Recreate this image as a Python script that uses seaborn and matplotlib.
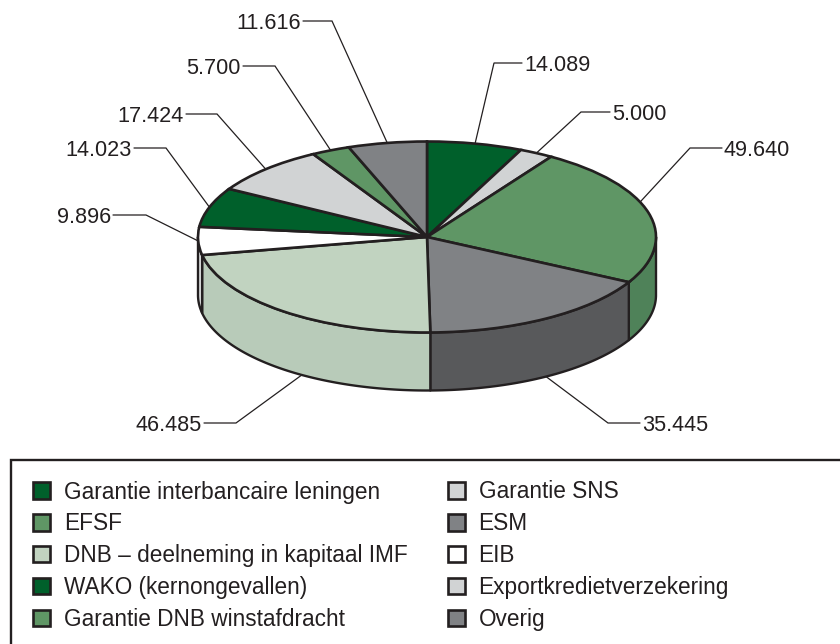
import numpy as np
import seaborn as sns
import matplotlib.pyplot as plt
from matplotlib.patches import Rectangle

# slices clockwise from the top
categories = ["Garantie interbancaire leningen", "Garantie SNS", "EFSF", "ESM",
              "DNB – deelneming in kapitaal IMF", "EIB", "WAKO (kernongevallen)",
              "Exportkredietverzekering", "Garantie DNB winstafdracht", "Overig"]
values = [14.089, 5.000, 49.640, 35.445, 46.485, 9.896, 14.023, 17.424, 5.700, 11.616]
top_colors = ["#00602b", "#d1d3d4", "#5f9665", "#808285", "#c1d3c0",
              "#ffffff", "#00602b", "#d1d3d4", "#5f9665", "#808285"]
side_colors = ["#00501f", "#b5b7b8", "#4f8259", "#58595b", "#b8cbb9",
               "#dfe1e1", "#00501f", "#b5b7b8", "#4f8259", "#58595b"]

# label layout in pixels: elbow x, elbow y, end of the horizontal piece
elbow_x = [494, 581, 690, 608, 236, 146, 166, 217, 275, 332]
elbow_y = [63, 112, 148, 423, 423, 215, 148, 114, 66, 21]
end_x = [522, 610, 722, 640, 204, 113, 134, 186, 243, 303]
# nudge of the leader start along the rim, degrees
leader_shift = [0, 0, -7, 0, -6, 0, 0, 0, 0, 0]

INK = "#231f20"
CX, CY, RX, RY, DEPTH = 427, 237, 229, 95.5, 58

sns.set_theme(style="white")
plt.rcParams["font.family"] = ["Liberation Sans", "DejaVu Sans"]
palette = sns.color_palette(top_colors)

fig = plt.figure(figsize=(8.4, 6.44), dpi=100)
ax = fig.add_axes([0, 0, 1, 1])

# top of the pie, squeezed to an ellipse by the axes limits below
wedges, _ = ax.pie(values, colors=palette, startangle=90, counterclock=False,
                   wedgeprops={"edgecolor": INK, "linewidth": 1.9, "zorder": 3})
ax.set_aspect("auto")
ax.set_xlim(-CX / RX, (840 - CX) / RX)
ax.set_ylim((CY - 644) / RY, CY / RY)
ax.axis("off")

depth = DEPTH / RY
fractions = np.cumsum([0] + values) / sum(values) * 2 * np.pi

# side wall: only the front half of the rim is visible
for i in range(len(values)):
    a = max(fractions[i], np.pi / 2)
    b = min(fractions[i + 1], 3 * np.pi / 2)
    if b <= a:
        continue
    t = np.linspace(a, b, 80)
    xs = np.concatenate([np.sin(t), np.sin(t[::-1])])
    ys = np.concatenate([np.cos(t), np.cos(t[::-1]) - depth])
    ax.fill(xs, ys, facecolor=side_colors[i], edgecolor=INK, linewidth=1.7,
            zorder=2, joinstyle="round")

# leader lines start on the rim at the middle of each slice
for i, v in enumerate(values):
    mid = (fractions[i] + fractions[i + 1]) / 2 + np.radians(leader_shift[i])
    x0 = np.sin(mid)
    y0 = np.cos(mid)
    if y0 < -0.5:
        y0 -= depth
    ex = (elbow_x[i] - CX) / RX
    ey = (CY - elbow_y[i]) / RY
    hx = (end_x[i] - CX) / RX
    ax.plot([x0, ex, hx], [y0, ey, ey], color=INK, linewidth=0.9, zorder=1,
            solid_joinstyle="miter")
    right = end_x[i] > elbow_x[i]
    ax.text(hx + (2 / RX if right else -2 / RX), ey, f"{v:.3f}", color=INK,
            fontsize=15.6, va="center_baseline", ha="left" if right else "right")

# legend box runs off the canvas on the right and at the bottom
fig.add_artist(Rectangle((11 / 840, -0.05), 1.0, 0.05 + (644 - 460) / 644,
                         transform=fig.transFigure, facecolor="none",
                         edgecolor=INK, linewidth=1.7))

order = list(range(0, 10, 2)) + list(range(1, 10, 2))
leg = fig.legend([wedges[i] for i in order], [categories[i] for i in order],
                 ncol=2, loc="upper left", bbox_to_anchor=(33 / 840, 1 - 480.5 / 644),
                 bbox_transform=fig.transFigure, frameon=False, borderpad=0,
                 borderaxespad=0, fontsize=16.3, handlelength=0.74, handleheight=0.74,
                 handletextpad=0.62, labelspacing=0.39, columnspacing=1.78,
                 labelcolor=INK)

fig.savefig("out.png", dpi=100)
